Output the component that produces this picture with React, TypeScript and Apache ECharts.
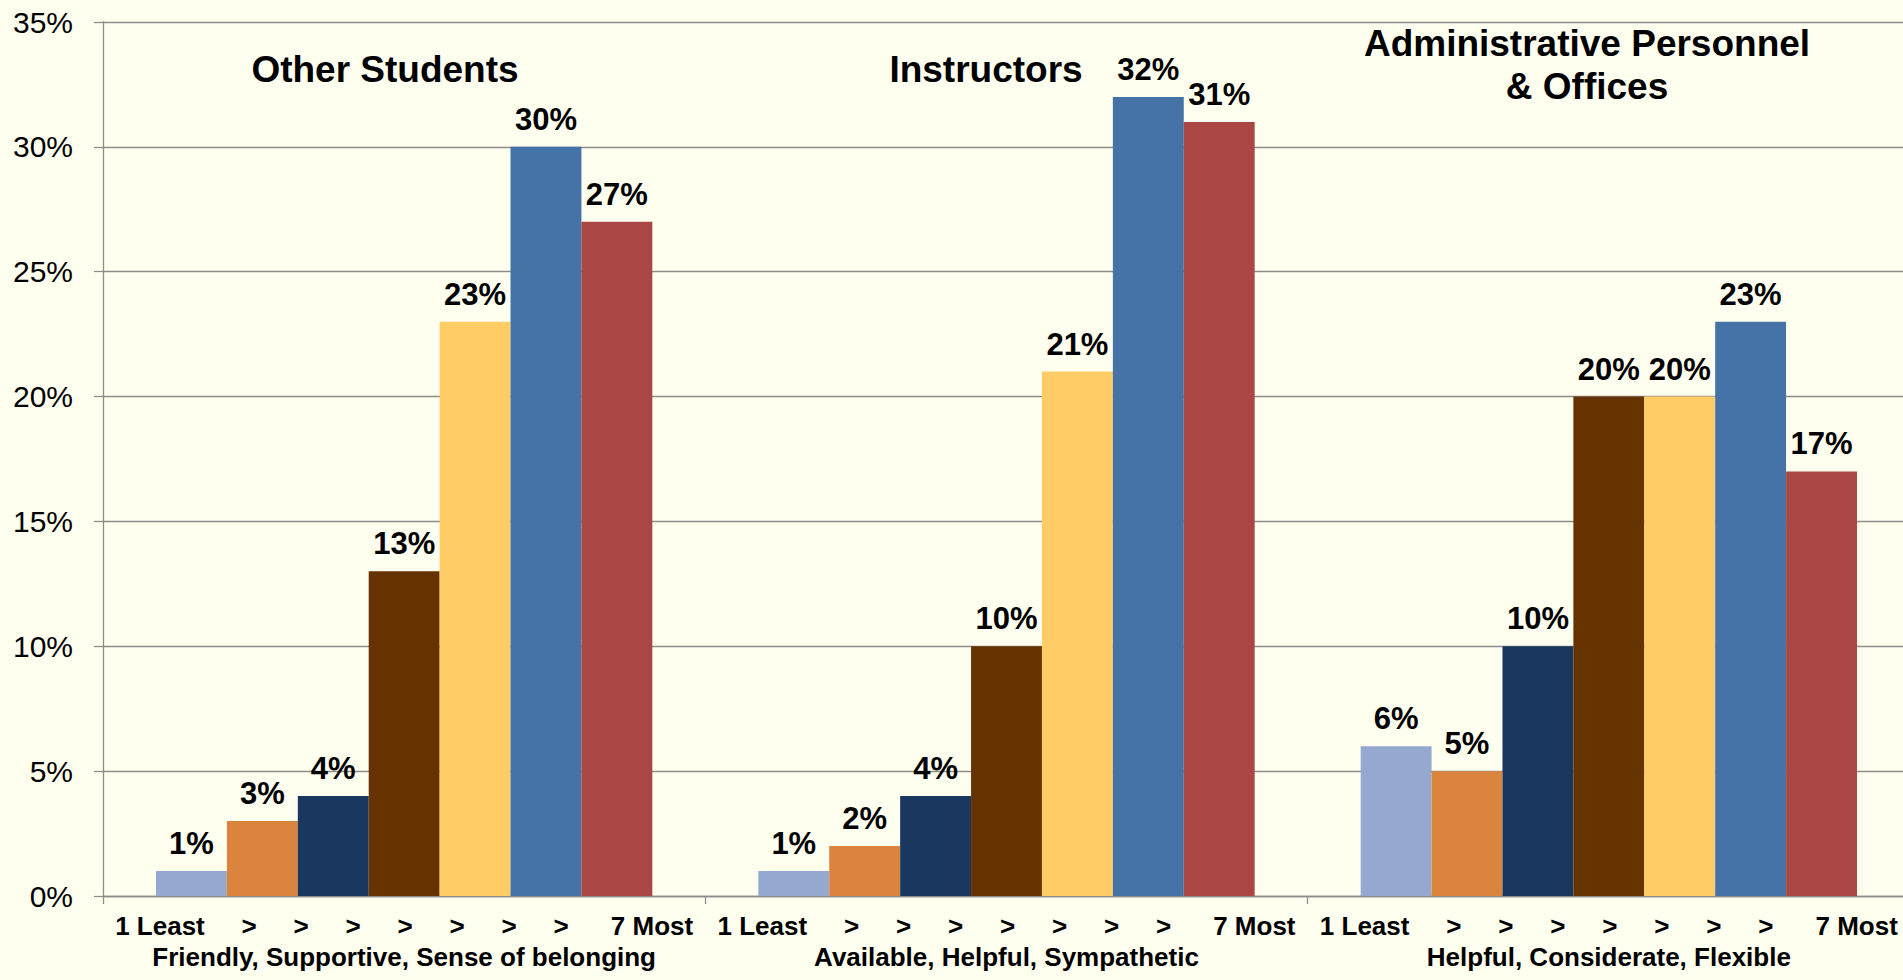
import React, { useEffect, useRef } from "react";
import * as echarts from "echarts";

const categories = ["Other Students", "Instructors", "Administrative Personnel & Offices"];
const subLabels = [
  "Friendly, Supportive, Sense of belonging",
  "Available, Helpful, Sympathetic",
  "Helpful, Considerate, Flexible",
];
const scaleLow = "1 Least";
const scaleHigh = "7 Most";
const scaleSteps = [">", ">", ">", ">", ">", ">", ">"];

const ratingNames = ["1 Least", "2", "3", "4", "5", "6", "7 Most"];
const rating1 = [1, 1, 6];
const rating2 = [3, 2, 5];
const rating3 = [4, 4, 10];
const rating4 = [13, 10, 20];
const rating5 = [23, 21, 20];
const rating6 = [30, 32, 23];
const rating7 = [27, 31, 17];
const ratingValues = [rating1, rating2, rating3, rating4, rating5, rating6, rating7];
const ratingColors = ["#95A9D0", "#DB843D", "#1A3760", "#663300", "#FFCC66", "#4572A7", "#AA4643"];

const yTicks = { min: 0, max: 35, interval: 5 };

const FONT = "'Liberation Sans', Arial, sans-serif";
const GRAY = "#8c8c8c";

export default function App() {
  const ref = useRef<HTMLDivElement>(null);
  useEffect(() => {
    if (!ref.current) return;
    const chart = echarts.init(ref.current, null, { renderer: "svg" });
    const labelText = (_v: string, i: number) =>
      `{lo|${scaleLow}}` +
      scaleSteps.map((s) => `{gt|${s}}`).join("") +
      `{hi|${scaleHigh}}\n{sub|${subLabels[i]}}`;
    const tokenBase = { fontSize: 26, fontWeight: "bold", lineHeight: 31, color: "#000", fontFamily: FONT };
    chart.setOption({
      animation: false,
      backgroundColor: "#FFFFF0",
      textStyle: { fontFamily: FONT },
      grid: { left: 103, right: 0, top: 22, bottom: 84, containLabel: false },
      xAxis: {
        type: "category",
        data: categories,
        axisLine: { show: true, lineStyle: { color: GRAY, width: 1.3 } },
        axisTick: { show: true, length: 8, alignWithLabel: false, lineStyle: { color: GRAY, width: 1.3 } },
        axisLabel: {
          interval: 0,
          margin: 14,
          color: "#000",
          formatter: labelText,
          rich: {
            lo: { ...tokenBase, width: 108, align: "left" },
            gt: { ...tokenBase, width: 52, align: "center" },
            hi: { ...tokenBase, width: 106, align: "right" },
            sub: { ...tokenBase, align: "center" },
          },
        },
      },
      yAxis: {
        type: "value",
        min: yTicks.min,
        max: yTicks.max,
        interval: yTicks.interval,
        axisLine: { show: true, lineStyle: { color: GRAY, width: 1.3 } },
        axisTick: { show: true, length: 9, lineStyle: { color: GRAY, width: 1.3 } },
        splitLine: { show: true, lineStyle: { color: GRAY, width: 1.3 } },
        axisLabel: { formatter: "{value}%", fontSize: 30, color: "#000", margin: 30, fontFamily: FONT },
      },
      series: ratingValues.map((vals, k) => ({
        type: "bar",
        name: ratingNames[k],
        data: vals,
        barGap: "0%",
        barCategoryGap: "17.6%",
        itemStyle: { color: ratingColors[k] },
        label: {
          show: true,
          position: "top",
          distance: 12,
          formatter: "{c}%",
          fontSize: 31,
          fontWeight: "bold",
          color: "#000",
          fontFamily: FONT,
        },
      })),
      graphic: [
        {
          type: "text",
          x: 385,
          y: 69,
          style: { text: "Other Students", fontSize: 37, fontWeight: "bold", fill: "#000", align: "center", verticalAlign: "middle", fontFamily: FONT },
        },
        {
          type: "text",
          x: 986,
          y: 69,
          style: { text: "Instructors", fontSize: 37, fontWeight: "bold", fill: "#000", align: "center", verticalAlign: "middle", fontFamily: FONT },
        },
        {
          type: "text",
          x: 1587,
          y: 64.5,
          style: {
            text: "Administrative Personnel\n& Offices",
            fontSize: 37,
            lineHeight: 43,
            fontWeight: "bold",
            fill: "#000",
            align: "center",
            verticalAlign: "middle",
            fontFamily: FONT,
          },
        },
      ],
    });
    return () => chart.dispose();
  }, []);
  return <div ref={ref} style={{ position: "fixed", left: 0, top: 0, width: 1910, height: 980 }} />;
}
